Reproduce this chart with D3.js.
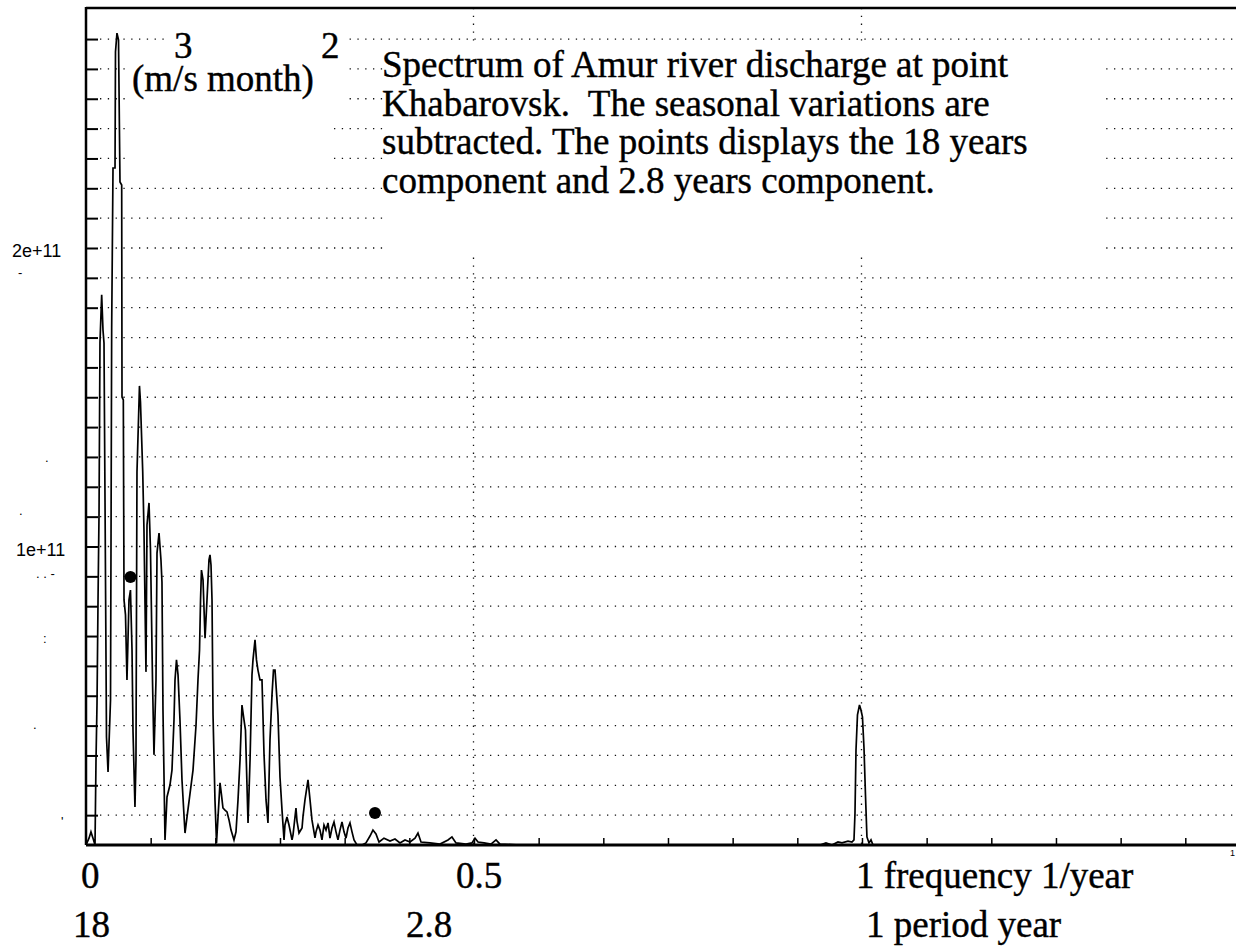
<!DOCTYPE html>
<html>
<head>
<meta charset="utf-8">
<script src="https://cdn.jsdelivr.net/npm/d3@7"></script>
<style>
html, body { margin: 0; padding: 0; background: #fff; overflow: hidden; }
svg { display: block; }
.serif { font-family: "Liberation Serif", "Times New Roman", serif; font-size: 37px; fill: #000; stroke: #000; stroke-width: 0.4; white-space: pre; }
.ylab { font-family: "Liberation Sans", Arial, sans-serif; font-size: 18px; fill: #000; }
.junk { font-family: "Liberation Sans", Arial, sans-serif; font-size: 13px; fill: #000; }
</style>
</head>
<body>
<svg id="chart" width="1236" height="948"></svg>
<script>
// spectrum of Amur discharge at Khabarovsk, power in units of 1e10
var freq = [0, .0039, .0064, .0090, .0116, .0129, .0142, .0155, .0168, .0180,
    .0202, .0219, .0232, .0245, .0264, .0284, .0316, .0331, .0348, .0374,
    .0380, .0399, .0419, .0438, .0460, .0464, .0481, .0490, .0509, .0528,
    .0554, .0573, .0593, .0606, .0631, .0644, .0657, .0689, .0702, .0731,
    .0747, .0773, .0786, .0812, .0831, .0857, .0876, .0902, .0915, .0941,
    .0966, .0979, .0992, .1018, .1044, .1082, .1108, .1134, .1147, .1166,
    .1186, .1211, .1237, .1276, .1302, .1340, .1379, .1418, .1443, .1463,
    .1476, .1488, .1508, .1534, .1559, .1585, .1598, .1611, .1624, .1637,
    .1662, .1682, .1727, .1746, .1765, .1791, .1817, .1843, .1869, .1907,
    .1933, .1959, .1985, .2010, .2036, .2055, .2088, .2114, .2139, .2152,
    .2178, .2197, .2216, .2242, .2268, .2294, .2320, .2345, .2371, .2397,
    .2416, .2436, .2474, .2500, .2526, .2552, .2564, .2590, .2616, .2655,
    .2668, .2706, .2719, .2745, .2784, .2796, .2822, .2861, .2887, .2912,
    .2951, .2964, .2990, .3015, .3041, .3067, .3093, .3119, .3144, .3170,
    .3196, .3222, .3247, .3273, .3299, .3325, .3351, .3376, .3402, .3428,
    .3454, .3492, .3557, .3608, .3660, .3698, .3737, .3776, .3840, .3918,
    .3982, .4046, .4111, .4175, .4240, .4278, .4317, .4433, .4562, .4665,
    .4716, .4768, .4897, .4974, .5013, .5052, .5129, .5219, .5284, .5335,
    .5593, .9459, .9536, .9613, .9691, .9742, .9820, .9871, .9897, .9910,
    .9923, .9942, .9968, .9987, 1.0006, 1.0026, 1.0045, 1.0064, 1.0090, 1.0116,
    1.0142, 1.4820]
var power = [0, .23, .44, .23, 0, 2.85, 4.76, 8.21, 11.12, 16.82,
    18.43, 17.25, 16.82, 11.56, 3.62, 2.45, 4.86, 17.35, 22.68, 22.68,
    26.57, 27.20, 26.97, 22.21, 22.11, 15.01, 14.91, 8.21, 7.71, 5.53,
    8.21, 8.54, 6.53, 3.79, 1.27, 2.85, 12.50, 15.38, 14.84, 12.50,
    10.55, 5.80, 10.72, 11.46, 9.88, 5.53, 3.02, 5.53, 9.78, 10.45,
    9.55, 8.81, 4.52, .17, 1.61, 2.01, 2.51, 4.19, 5.53, 6.20,
    5.70, 4.19, 2.18, .40, .94, 1.71, 2.51, 4.02, 5.53, 6.53,
    8.21, 9.21, 8.88, 6.93, 8.21, 9.55, 9.72, 9.38, 8.21, 4.36,
    1.51, .07, 2.08, 1.68, 1.24, 1.17, 1.11, .84, .50, .17,
    .44, 1.51, 2.85, 4.69, 4.19, 3.85, .74, 2.85, 5.70, 6.20,
    6.87, 6.20, 5.86, 5.53, 5.53, 3.05, 1.51, .74, 3.52, 5.03,
    5.86, 5.86, 4.36, 2.28, 1.17, .17, .67, .94, .67, .17,
    .34, 1.24, .80, .40, .57, .94, 1.51, 2.18, 1.51, .84,
    .24, .44, .67, .50, .17, .67, .50, .74, .23, .57,
    .77, .44, .17, .50, .77, .44, .23, .57, .74, .44,
    .17, 0, 0, .07, .30, .50, .37, .10, .23, .13,
    .20, .07, .17, .10, .23, .40, .10, .07, .03, .17,
    .27, .07, .03, .07, .23, .10, .07, .03, .17, .03,
    0, 0, .07, 0, .10, .07, .13, .10, .17, 1.07,
    3.18, 4.36, 4.69, 4.52, 4.29, 3.25, 1.68, .27, .07, .17,
    0, 0]

// the two marked components (18 years and 2.8 years)
var markFreq = [0.0573, 0.3724]
var markPower = [8.98, 1.07]

var gridPower = d3.range(1, 28)
var gridFreq = [0.5, 1]
var yLabelValues = [10, 20]
var yLabels = ["1e+11", "2e+11"]
var labelFreq = [0, 0.5, 1]
var freqLabels = ["0", "0.5", "1 frequency 1/year"]
var periodLabels = ["18", "2.8", "1 period year"]
var noteLines = ["Spectrum of Amur river discharge at point",
                 "Khabarovsk.  The seasonal variations are",
                 "subtracted. The points displays the 18 years",
                 "component and 2.8 years component."]

var svg = d3.select("#chart")
var xLeft = 86, xRight = 1236, yBottom = 845, yTop = 8

var x = d3.scaleLinear().domain([0, 1.482]).range([xLeft, xRight])
var y = d3.scaleLinear().domain([0, 28]).range([yBottom, 9.2])

// dotted grid
svg.append("g").selectAll("line")
    .data(gridPower).enter().append("line")
    .attr("x1", 100).attr("x2", xRight)
    .attr("y1", function(d) { return y(d) }).attr("y2", function(d) { return y(d) })
    .attr("stroke", "#111").attr("stroke-width", 1.3)
    .attr("stroke-dasharray", "1.3,6.5")

svg.append("g").selectAll("line")
    .data(gridFreq).enter().append("line")
    .attr("x1", function(d) { return Math.round(x(d)) - 0.5 }).attr("x2", function(d) { return Math.round(x(d)) - 0.5 })
    .attr("y1", yTop).attr("y2", yBottom)
    .attr("stroke", "#111").attr("stroke-width", 1.3)
    .attr("stroke-dasharray", "1.3,6.5")

// white boxes behind the annotations
var boxes = [[130, 45, 218, 65], [130, 110, 203, 60], [170, 30, 178, 15], [383, 44, 717, 210]]
svg.append("g").selectAll("rect")
    .data(boxes).enter().append("rect")
    .attr("x", function(d) { return d[0] }).attr("y", function(d) { return d[1] })
    .attr("width", function(d) { return d[2] }).attr("height", function(d) { return d[3] })
    .attr("fill", "#fff")

// y ticks inside the frame
var yAxis = svg.append("g")
    .attr("transform", "translate(" + xLeft + ",0)")
    .call(d3.axisRight(y).tickValues(gridPower).tickSize(12).tickFormat(""))
yAxis.select(".domain").remove()
yAxis.selectAll("line").attr("stroke", "#000").attr("stroke-width", 2)

// monthly ticks on frequency axis
var xAxis = svg.append("g")
    .attr("transform", "translate(0," + yBottom + ")")
    .call(d3.axisTop(x).tickValues(d3.range(1, 18).map(function(k) { return k / 12 })).tickSize(7).tickFormat(""))
xAxis.select(".domain").remove()
xAxis.selectAll("line").attr("stroke", "#000").attr("stroke-width", 1.5)

// frame
svg.append("line").attr("x1", xLeft).attr("x2", xRight).attr("y1", yTop).attr("y2", yTop)
    .attr("stroke", "#000").attr("stroke-width", 2.5)
svg.append("line").attr("x1", xLeft).attr("x2", xLeft).attr("y1", yTop - 1).attr("y2", yBottom)
    .attr("stroke", "#000").attr("stroke-width", 2.5)

// spectrum curve
var line = d3.line()
    .x(function(d) { return x(d[0]) })
    .y(function(d) { return y(d[1]) })
svg.append("path")
    .datum(d3.zip(freq, power))
    .attr("d", line)
    .attr("fill", "none")
    .attr("stroke", "#000")
    .attr("stroke-width", 1.7)
    .attr("stroke-linejoin", "miter")

svg.append("line").attr("x1", xLeft).attr("x2", xRight).attr("y1", yBottom).attr("y2", yBottom)
    .attr("stroke", "#000").attr("stroke-width", 3)

// marked points
svg.append("g").selectAll("circle")
    .data(d3.zip(markFreq, markPower)).enter().append("circle")
    .attr("cx", function(d) { return x(d[0]) })
    .attr("cy", function(d) { return y(d[1]) })
    .attr("r", 6)
    .attr("fill", "#000")

// y labels
svg.append("g").selectAll("text")
    .data(yLabelValues).enter().append("text")
    .attr("class", "ylab")
    .attr("x", function(d, i) { return i == 0 ? 16 : 12 })
    .attr("y", function(d) { return y(d) + 9 })
    .text(function(d, i) { return yLabels[i] })

// leftover tick-label fragments next to the axis
var junk = [["-", 18, 277], [".  . -", 36, 578], [".", 45, 462], [".", 19, 515],
            [":", 43, 643], [".", 33, 729], ["'", 61, 826]]
svg.append("g").selectAll("text")
    .data(junk).enter().append("text")
    .attr("class", "junk")
    .attr("x", function(d) { return d[1] }).attr("y", function(d) { return d[2] })
    .text(function(d) { return d[0] })
svg.append("text").attr("class", "junk").attr("x", 1230).attr("y", 856)
    .style("font-size", "9px").text("1")

// bottom labels
var freqOffset = [-5, -18, -6]
var periodOffset = [-13, -68, 4]
svg.append("g").selectAll("text")
    .data(freqLabels).enter().append("text")
    .attr("class", "serif")
    .attr("x", function(d, i) { return x(labelFreq[i]) + freqOffset[i] })
    .attr("y", 888)
    .text(function(d) { return d })
svg.append("g").selectAll("text")
    .data(periodLabels).enter().append("text")
    .attr("class", "serif")
    .attr("x", function(d, i) { return x(labelFreq[i]) + periodOffset[i] })
    .attr("y", 937)
    .text(function(d) { return d })

// units (m/s)^3 ... written as one block
var units = svg.append("text").attr("class", "serif")
units.append("tspan").attr("x", 174).attr("y", 58).text("3")
units.append("tspan").attr("x", 321).attr("y", 58).text("2")
units.append("tspan").attr("x", 132).attr("y", 91).text("(m/s month)")

// note
svg.append("g").selectAll("text")
    .data(noteLines).enter().append("text")
    .attr("class", "serif")
    .attr("x", 382)
    .attr("y", function(d, i) { return 77 + i * 38.7 })
    .text(function(d) { return d })
</script>
</body>
</html>
